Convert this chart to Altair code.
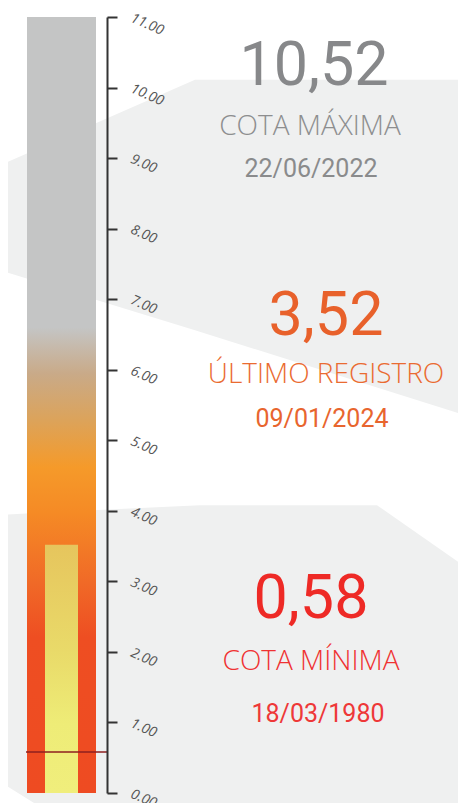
import altair as alt
import pandas as pd

# ---------------- data ----------------
scale_min = 0.0
scale_max = 11.0
tick_values = [0, 1, 2, 3, 4, 5, 6, 7, 8, 9, 10, 11]

stat_values = [10.52, 3.52, 0.58]
stat_labels = ["COTA MÁXIMA", "ÚLTIMO REGISTRO", "COTA MÍNIMA"]
stat_dates = ["22/06/2022", "09/01/2024", "18/03/1980"]
stat_colors = ["#87888a", "#e8612b", "#ee2a26"]
label_colors = ["#8d8e8f", "#ea6b31", "#ef3232"]
date_colors = ["#8a8b8c", "#e8652e", "#ee3838"]

last_value = 3.52
min_value = 0.58

# decorative background shapes (x in plot px units, y in gauge units)
bg1_x = [-27, 168, 439]
bg1_top = [8.90, 10.11, 10.11]
bg1_bot = [7.41, 6.56, 5.35]
bg2_x = [-27, 8, 173, 350, 439]
bg2_top = [3.94, 3.97, 4.08, 4.08, 3.20]
bg2_bot = [0.16, -0.15, -0.15, -0.15, -0.15]

# ---------------- chart ----------------
yscale = alt.Scale(domain=[scale_min, scale_max], nice=False, zero=False)
xscale = alt.Scale(domain=[0, 80], nice=False, zero=False)
y_axis = alt.Axis(
    orient="right", values=tick_values, format=".2f", title=None, grid=False,
    domainColor="#333333", domainWidth=2, tickColor="#333333", tickWidth=2,
    tickSize=10, labelAngle=24, labelAlign="left", labelBaseline="middle",
    labelPadding=14, labelFont="Open Sans", labelFontStyle="italic",
    labelFontWeight=400, labelFontSize=14, labelColor="#555555", zindex=1,
    labelOverlap=False,
)

bg_fill = "#eff0f0"
bg1 = alt.Chart(pd.DataFrame({"x": bg1_x, "top": bg1_top, "bot": bg1_bot})).mark_area(
    color=bg_fill
).encode(
    x=alt.X("x:Q", scale=xscale, axis=None),
    y=alt.Y("top:Q", scale=yscale, axis=y_axis),
    y2="bot:Q",
)
bg2 = alt.Chart(pd.DataFrame({"x": bg2_x, "top": bg2_top, "bot": bg2_bot})).mark_area(
    color=bg_fill
).encode(
    x=alt.X("x:Q", scale=xscale, axis=None),
    y=alt.Y("top:Q", scale=yscale, axis=y_axis),
    y2="bot:Q",
)

outer_grad = alt.LinearGradient(
    gradient="linear", x1=0, x2=0, y1=0, y2=1,
    stops=[
        alt.GradientStop(color="#c4c5c5", offset=0.0),
        alt.GradientStop(color="#c4c5c5", offset=0.40),
        alt.GradientStop(color="#c9aa88", offset=0.46),
        alt.GradientStop(color="#dca35a", offset=0.52),
        alt.GradientStop(color="#f59a2a", offset=0.58),
        alt.GradientStop(color="#f58a25", offset=0.64),
        alt.GradientStop(color="#f06927", offset=0.73),
        alt.GradientStop(color="#ee4e22", offset=0.80),
        alt.GradientStop(color="#ee4b22", offset=1.0),
    ],
)
outer = alt.Chart(pd.DataFrame({"lo": [scale_min], "hi": [scale_max]})).mark_rect(
    color=outer_grad
).encode(
    x=alt.value(0), x2=alt.value(69),
    y=alt.Y("hi:Q", scale=yscale, axis=y_axis), y2="lo:Q",
)

inner_grad = alt.LinearGradient(
    gradient="linear", x1=0, x2=0, y1=0, y2=1,
    stops=[
        alt.GradientStop(color="#e6c55d", offset=0.0),
        alt.GradientStop(color="#e9da69", offset=0.43),
        alt.GradientStop(color="#eeec77", offset=0.72),
        alt.GradientStop(color="#f0ee7c", offset=1.0),
    ],
)
inner = alt.Chart(pd.DataFrame({"lo": [scale_min], "hi": [last_value]})).mark_rect(
    color=inner_grad
).encode(
    x=alt.value(18), x2=alt.value(51),
    y=alt.Y("hi:Q", scale=yscale, axis=y_axis), y2="lo:Q",
)

min_rule = alt.Chart(pd.DataFrame({"v": [min_value]})).mark_rule(
    color="#8e1f1f", strokeWidth=1.5
).encode(
    x=alt.value(-1), x2=alt.value(80),
    y=alt.Y("v:Q", scale=yscale, axis=y_axis),
)

# text layout (pixel offsets inside the plot area)
num_pos = [(287, 68), (299, 318), (284, 601)]
lab_pos = [(283, 118), (299, 366), (284, 653)]
date_pos = [(284, 160), (295, 410), (291, 705)]

texts = []
for i in range(3):
    df = pd.DataFrame({
        "num": [f"{stat_values[i]:.2f}".replace(".", ",")],
        "label": [stat_labels[i]],
        "date": [stat_dates[i]],
    })
    base = alt.Chart(df)
    texts.append(base.mark_text(
        font="Roboto", fontSize=61, fontWeight=400, color=stat_colors[i],
        align="center", baseline="alphabetic",
    ).encode(text="num:N", x=alt.value(num_pos[i][0]), y=alt.value(num_pos[i][1])))
    texts.append(base.mark_text(
        font="Open Sans", fontSize=28, fontWeight=300, color=label_colors[i],
        align="center", baseline="alphabetic",
    ).encode(text="label:N", x=alt.value(lab_pos[i][0]), y=alt.value(lab_pos[i][1])))
    texts.append(base.mark_text(
        font="Roboto", fontSize=25, fontWeight=400, color=date_colors[i],
        align="center", baseline="alphabetic",
    ).encode(text="date:N", x=alt.value(date_pos[i][0]), y=alt.value(date_pos[i][1])))

chart = alt.layer(bg1, bg2, outer, inner, min_rule, *texts).properties(
    width=80, height=776,
    autosize=alt.AutoSizeParams(type="none"),
    padding={"left": 19, "top": 9, "right": 351, "bottom": 10},
).configure_view(stroke=None)

chart.save("out.html", embed_options={"renderer": "svg", "actions": False})
